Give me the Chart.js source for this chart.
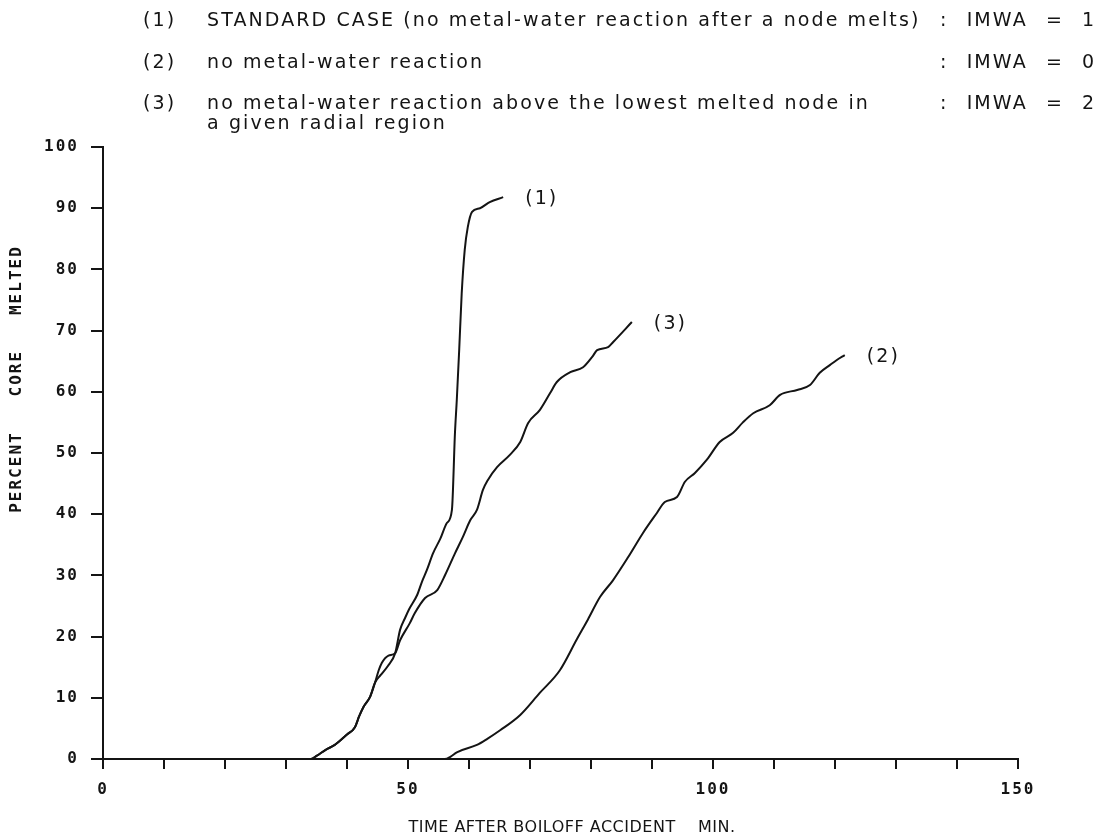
<!DOCTYPE html>
<html>
<head>
<meta charset="utf-8">
<title>Percent core melted after boiloff accident</title>
<script src="https://cdn.jsdelivr.net/npm/chart.js@4.4.0/dist/chart.umd.min.js"></script>
<style>
    html, body { margin: 0; padding: 0; background: #fff; }
    #wrap { width: 1105px; height: 839px; }
</style>
</head>
<body>
<div id="wrap"><canvas id="meltChart" width="1105" height="839"></canvas></div>
<script>
// (1) standard case, IMWA = 1
const time1 = [0, 34, 35, 36.5, 38, 40, 41.3, 42, 42.7, 43.8, 44.6, 45.5, 46.7, 47.9, 48.7, 49.5, 50.2, 51.5, 52.3, 53.1, 54.1, 55.3, 56.4, 57.2, 57.7, 58.0, 58.4, 58.8, 59.3, 59.8, 60.5, 61.8, 63.4, 65.6];
const melt1 = [0, 0, 0.5, 1.5, 2.3, 4.0, 5.2, 7.0, 8.5, 10.2, 12.5, 13.7, 15.2, 17.3, 21.1, 23.0, 24.5, 26.8, 29.0, 30.9, 33.6, 36.0, 38.6, 40.7, 53.3, 58.7, 67.0, 76.0, 83.2, 86.9, 89.4, 90.0, 91.0, 91.8];

// (2) no metal-water reaction, IMWA = 0
const time2 = [0, 56, 57, 58, 61.3, 63, 65.1, 68.4, 71.6, 74.9, 77.7, 79.5, 81.5, 83.6, 86.1, 88.5, 90.8, 92.1, 94.1, 95.4, 97, 99, 101.1, 103.3, 104.9, 106.6, 109.3, 111, 113.8, 115.9, 117.5, 119.2, 120.3, 121.6];
const melt2 = [0, 0, 0.4, 1.1, 2.3, 3.3, 4.7, 7.2, 10.8, 14.5, 19.6, 22.8, 26.5, 29.2, 33.0, 36.9, 40.2, 42.0, 42.8, 45.3, 46.7, 48.9, 51.8, 53.3, 55.0, 56.5, 57.8, 59.5, 60.3, 61.1, 63.1, 64.4, 65.2, 66.0];

// (3) no reaction above the lowest melted node, IMWA = 2
const time3 = [0, 34, 35, 36.5, 38, 40, 41.3, 42, 42.7, 43.8, 44.6, 45.2, 45.7, 46.8, 47.9, 48.7, 50.3, 51.1, 52.8, 54.8, 56.1, 57.7, 59, 60.2, 61.3, 62.3, 63.1, 64.6, 66.7, 68.4, 69.7, 71.6, 73.3, 74.4, 76.6, 78.7, 80.2, 81, 82.8, 83.6, 86.7];
const melt3 = [0, 0, 0.5, 1.5, 2.3, 4.0, 5.2, 7.0, 8.5, 10.2, 12.5, 14.5, 15.7, 16.9, 17.3, 19.4, 22.2, 23.8, 26.3, 27.6, 30.1, 33.6, 36.3, 39.0, 40.7, 44.0, 45.6, 47.7, 49.7, 51.8, 54.9, 57.0, 59.8, 61.6, 63.2, 64.0, 65.7, 66.8, 67.3, 68.1, 71.4];

const caseTags = ['(1)', '(2)', '(3)'];
const caseText = [
    ['STANDARD CASE (no metal-water reaction after a node melts)'],
    ['no metal-water reaction'],
    ['no metal-water reaction above the lowest melted node in', 'a given radial region']
];
const imwaText = [': IMWA = 1', ': IMWA = 0', ': IMWA = 2'];
const xTickLabels = [0, 50, 100, 150];
const xTitle = 'TIME AFTER BOILOFF ACCIDENT    MIN.';
const yTitle = 'PERCENT   CORE   MELTED';

const INK = '#141414';

function toPoints(times, values) {
    return times.map((t, i) => ({ x: t, y: values[i] }));
}

// Free text: case list at the top, curve tags and the two axis titles
const textPlugin = {
    id: 'plotText',
    beforeDraw(chart) {
        chart.ctx.letterSpacing = '2px';
    },
    afterDraw(chart) {
        const ctx = chart.ctx;
        ctx.save();
        ctx.fillStyle = INK;
        ctx.textBaseline = 'middle';
        ctx.textAlign = 'left';
        ctx.font = '19px "DejaVu Sans"';
        ctx.letterSpacing = '2.1px';

        const rows = [21, 63, 104];
        caseTags.forEach((tag, i) => {
            ctx.fillText(tag, 143, rows[i]);
            caseText[i].forEach((line, j) => {
                ctx.fillText(line, 207, rows[i] + j * 20);
            });
            ctx.wordSpacing = '10px';
            ctx.fillText(imwaText[i], 940, rows[i]);
            ctx.wordSpacing = '0px';
        });

        // tag each curve just past its last point
        chart.data.datasets.forEach(ds => {
            const last = ds.data[ds.data.length - 1];
            const x = chart.scales.x.getPixelForValue(last.x) + 22;
            const y = chart.scales.y.getPixelForValue(last.y) + 2;
            ctx.fillText(ds.label, x, y);
        });

        ctx.textAlign = 'center';
        ctx.font = '16px "DejaVu Sans"';
        ctx.letterSpacing = '0.5px';
        ctx.fillText(xTitle, 572, 828);

        ctx.translate(17, 379);
        ctx.rotate(-Math.PI / 2);
        ctx.font = 'bold 16px "DejaVu Sans Mono"';
        ctx.letterSpacing = '2px';
        ctx.fillText(yTitle, 0, 0);
        ctx.restore();
    }
};

const tickFont = { family: 'DejaVu Sans Mono', size: 16, weight: 'bold' };

const ctx = document.getElementById('meltChart').getContext('2d');
new Chart(ctx, {
    type: 'line',
    data: {
        datasets: [
            { label: caseTags[0], data: toPoints(time1, melt1) },
            { label: caseTags[1], data: toPoints(time2, melt2) },
            { label: caseTags[2], data: toPoints(time3, melt3) }
        ]
    },
    options: {
        responsive: false,
        animation: false,
        events: [],
        layout: { padding: { top: 147, right: 87, bottom: 0, left: 0 } },
        plugins: {
            legend: { display: false },
            tooltip: { enabled: false }
        },
        elements: {
            point: { radius: 0 },
            line: {
                borderColor: INK,
                borderWidth: 2,
                cubicInterpolationMode: 'monotone',
                fill: false
            }
        },
        scales: {
            x: {
                type: 'linear',
                min: 0,
                max: 150,
                afterFit: scale => { scale.height = 80; },
                border: { color: INK, width: 2 },
                grid: { drawOnChartArea: false, tickLength: 10, color: INK, lineWidth: 2 },
                ticks: {
                    stepSize: 10,
                    autoSkip: false,
                    maxRotation: 0,
                    padding: 11,
                    color: INK,
                    font: tickFont,
                    callback: value => xTickLabels.includes(value) ? String(value) : ''
                }
            },
            y: {
                type: 'linear',
                min: 0,
                max: 100,
                afterFit: scale => { scale.width = 103; },
                border: { color: INK, width: 2 },
                grid: { drawOnChartArea: false, tickLength: 12, color: INK, lineWidth: 2 },
                ticks: {
                    stepSize: 10,
                    padding: 12,
                    color: INK,
                    font: tickFont
                }
            }
        }
    },
    plugins: [textPlugin]
});
</script>
</body>
</html>
